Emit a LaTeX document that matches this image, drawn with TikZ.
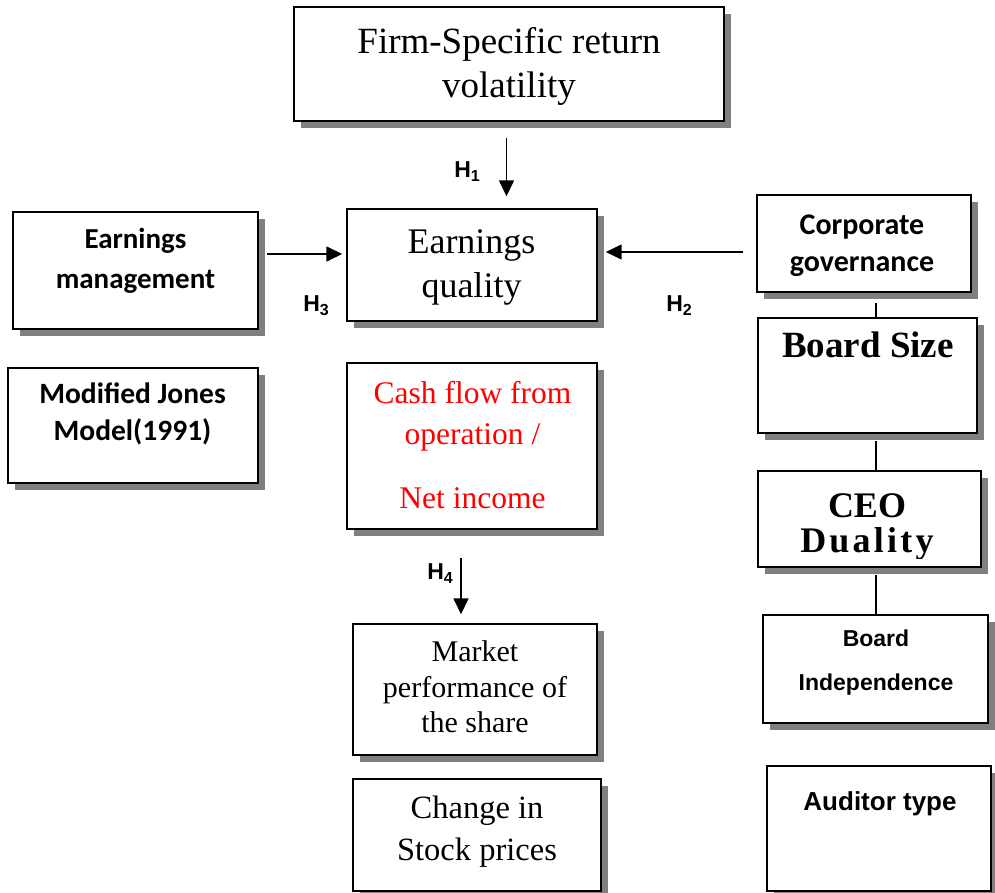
\documentclass[tikz,border=0pt]{standalone}
\usepackage{fontspec}
\setmainfont{Liberation Serif}
\newfontfamily\calfont{Carlito}
\newfontfamily\arfont{Liberation Sans}
\newfontfamily\widefont{Liberation Serif}[LetterSpace=9]
\usetikzlibrary{arrows.meta,shadows}

\newcommand{\hlabel}[1]{H\raisebox{-4pt}{\fontsize{16}{16}\selectfont #1}}

\begin{document}
\begin{tikzpicture}[x=1pt,y=-1pt,
  box/.style={draw=black, line width=1.4pt, fill=white, inner sep=0pt,
    drop shadow={shadow xshift=7pt, shadow yshift=-7pt, fill=black!50, opacity=1}},
  txt/.style={inner sep=0pt, align=center},
  conn/.style={line width=1.5pt, -{Triangle[length=16pt,width=15pt]}},
  link/.style={line width=1.4pt},
  hlab/.style={inner sep=0pt, font=\arfont\bfseries\fontsize{23}{23}\selectfont}]

% page
\fill[white] (0,0) rectangle (995,893);

% boxes
\node[box, minimum width=430pt, minimum height=114pt] (firm) at (509,64) {};
\node[box, minimum width=250pt, minimum height=112pt] (eq)   at (472,265) {};
\node[box, minimum width=245pt, minimum height=117pt] (em)   at (135.5,270.5) {};
\node[box, minimum width=250pt, minimum height=115pt] (mj)   at (133,425.5) {};
\node[box, minimum width=214pt, minimum height=97pt]  (cg)   at (864,243.5) {};
\node[box, minimum width=219pt, minimum height=115pt] (bs)   at (867.5,375.5) {};
\node[box, minimum width=223pt, minimum height=96pt]  (ceo)  at (869.5,519) {};
\node[box, minimum width=225pt, minimum height=108pt] (bi)   at (875.5,669) {};
\node[box, minimum width=224pt, minimum height=125pt] (at)   at (879,828.5) {};
\node[box, minimum width=250pt, minimum height=166pt] (cf)   at (472,446) {};
\node[box, minimum width=244pt, minimum height=131pt] (mp)   at (475,689.5) {};
\node[box, minimum width=248pt, minimum height=112pt] (cs)   at (477,835) {};

% box texts
\node[txt, font=\fontsize{37}{44}\selectfont] (firm-t) at (509,66.5) {Firm-Specific return\\volatility};
\node[txt, font=\fontsize{36}{44}\selectfont] (eq-t) at (471.5,267.5) {Earnings\\quality};
\node[txt, font=\calfont\bfseries\fontsize{29}{40}\selectfont] (em-t) at (135.5,261) {Earnings\\management};
\node[txt, font=\calfont\bfseries\fontsize{29.5}{37}\selectfont] (mj-t) at (132.5,414) {Modified Jones\\Model(1991)};
\node[txt, font=\calfont\bfseries\fontsize{30}{37}\selectfont] (cg-t) at (862,245.5) {Corporate\\governance};
\node[txt, font=\bfseries\fontsize{37}{37}\selectfont] (bs-t) at (868,345) {Board Size};
% the second line is cut off at its baseline by the text frame
\begin{scope}
  \clip (758,471) rectangle (981,558);
  \node[txt, font=\bfseries\fontsize{36}{35}\selectfont] (ceo-t) at (867,527) {CEO\\{\widefont Duality}};
\end{scope}
\node[txt, font=\arfont\bfseries\fontsize{23}{44}\selectfont] (bi-t) at (876,663) {Board\\Independence};
\node[txt, font=\arfont\bfseries\fontsize{26}{26}\selectfont] (at-t) at (880,803.5) {Auditor type};
\node[txt, text=red, font=\fontsize{31.5}{41}\selectfont] (cf-t) at (472.5,445) {Cash flow from\\operation /\\[23pt]Net income};
\node[txt, font=\fontsize{30}{35.5}\selectfont] (mp-t) at (475,687) {Market\\performance of\\the share};
\node[txt, font=\fontsize{32.5}{42}\selectfont] (cs-t) at (477,832) {Change in\\Stock prices};

% hypothesis arrows
\coordinate (h1s) at (506.5,138);
\draw[conn, shorten >=12pt] (h1s) -- (h1s |- eq.north);
\coordinate (emout) at (267,254);
\draw[conn, shorten >=4pt] (emout) -- (emout -| eq.west);
\coordinate (cgout) at (743,252);
\draw[conn, shorten >=8pt] (cgout) -- (cgout -| eq.east);
\coordinate (h4s) at (461,558);
\draw[conn, shorten >=9pt] (h4s) -- (h4s |- mp.north);

% governance chain
\coordinate (cgdown) at (876,303);
\draw[link] (cgdown) -- (cgdown |- bs.north);
\coordinate (bsdown) at (876,441);
\draw[link] (bsdown) -- (bsdown |- ceo.north);
\coordinate (ceodown) at (876,575);
\draw[link] (ceodown) -- (ceodown |- bi.north);

% hypothesis labels
\node[hlab] (h1) at (467,172) {\hlabel{1}};
\node[hlab] (h2) at (679,306) {\hlabel{2}};
\node[hlab] (h3) at (316,306) {\hlabel{3}};
\node[hlab] (h4) at (440,574) {\hlabel{4}};
\end{tikzpicture}
\end{document}
